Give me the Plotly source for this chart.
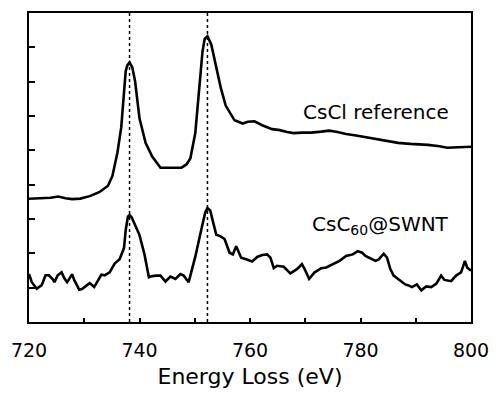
import plotly.graph_objects as go

# CsCl reference spectrum (energy loss eV, intensity a.u.)
cscl_energy = [720.0, 722.1, 723.9, 725.3, 726.6, 727.8, 729.3, 731.0, 732.8, 734.3, 735.1, 736.0,
               736.7, 737.5, 737.8, 738.2, 738.7, 739.2, 740.0, 741.1, 742.3, 743.8, 747.6, 748.5,
               749.2, 750.1, 750.6, 751.4, 751.8, 752.3, 753.0, 753.9, 754.7, 755.6, 757.2, 758.7,
               759.6, 760.8, 762.2, 764.0, 765.4, 766.7, 767.9, 769.4, 771.1, 772.9, 774.3, 775.6,
               777.4, 779.2, 781.5, 783.6, 785.4, 786.8, 789.0, 790.7, 792.2, 794.3, 795.7, 797.8, 800.0]
cscl_intensity = [125.6, 126.1, 126.6, 127.9, 126.1, 125.3, 125.8, 128.3, 132.6, 138.9, 148.9, 172.6,
                  198.6, 255.6, 261.6, 264.6, 259.6, 245.6, 207.6, 182.6, 168.6, 157.3, 157.3, 160.6,
                  166.6, 192.6, 225.6, 275.6, 288.6, 291.3, 282.6, 258.9, 238.9, 220.6, 205.6, 202.3,
                  204.1, 204.6, 200.6, 196.6, 195.6, 193.6, 192.6, 193.1, 193.1, 194.1, 195.1, 193.9,
                  191.6, 190.1, 187.6, 185.6, 183.6, 182.6, 181.6, 181.1, 180.6, 179.1, 177.6, 178.1, 178.6]

# CsC60@SWNT spectrum
swnt_energy = [720.0, 720.5, 721.4, 722.3, 723.0, 723.6, 724.3, 724.6, 725.2, 725.9, 726.4, 726.9,
               727.8, 728.2, 729.1, 729.6, 730.5, 731.0, 731.8, 733.1, 733.7, 734.6, 735.5, 736.4,
               737.2, 737.5, 737.9, 738.2, 738.6, 739.4, 740.0, 740.9, 741.7, 742.0, 742.9, 743.8,
               744.7, 745.6, 746.5, 747.4, 748.0, 748.9, 750.1, 751.2, 751.9, 752.3, 752.8, 753.3,
               753.9, 754.6, 755.4, 756.3, 756.9, 757.5, 758.4, 759.3, 760.4, 761.3, 762.2, 763.1,
               763.7, 764.3, 764.9, 766.1, 767.3, 768.5, 769.4, 769.9, 770.7, 771.7, 772.9, 773.8,
               775.0, 776.2, 777.4, 778.6, 779.5, 780.3, 780.9, 781.8, 782.7, 783.3, 784.2, 784.8,
               785.4, 786.0, 787.2, 788.1, 788.7, 789.3, 790.2, 791.0, 791.9, 792.8, 793.7, 794.6,
               795.2, 796.4, 797.3, 798.2, 798.9, 799.3, 800.0]
swnt_intensity = [48.9, 40.6, 33.9, 37.6, 47.6, 47.6, 43.6, 40.6, 47.6, 50.6, 44.6, 40.6,
                  48.6, 42.6, 32.9, 33.6, 37.6, 39.6, 35.6, 48.3, 47.6, 50.6, 59.6, 63.9,
                  75.6, 93.6, 107.3, 108.9, 106.6, 95.6, 88.6, 68.9, 45.6, 46.3, 47.3, 47.3,
                  41.3, 46.3, 43.9, 48.9, 47.3, 40.6, 66.6, 94.6, 111.6, 116.1, 113.6, 102.3,
                  88.9, 87.6, 84.6, 70.6, 68.9, 77.3, 65.6, 63.9, 61.6, 66.3, 68.3, 68.9,
                  65.6, 54.9, 57.3, 56.3, 49.6, 53.9, 58.9, 53.9, 43.9, 50.6, 54.9, 55.6,
                  58.9, 62.3, 67.3, 68.9, 72.3, 70.6, 67.3, 64.6, 62.3, 63.9, 69.6, 65.6,
                  53.9, 47.3, 42.3, 38.3, 37.3, 35.6, 38.3, 32.3, 36.3, 35.6, 38.9, 47.3,
                  42.9, 41.6, 47.3, 50.6, 62.3, 55.6, 52.3]

peak_lines = [738.2, 752.3]
x_tickvals = [720, 740, 760, 780, 800]
x_ticktext = ["720", "740", "760", "780", "800"]
y_tickvals = [35, 70, 105, 140, 175, 210, 245, 280]
labels = ["CsCl reference", "CsC<sub>60</sub>@SWNT"]
label_y = [213.6, 98.9]

FONT = "DejaVu Sans"

fig = go.Figure()
fig.add_trace(go.Scatter(x=cscl_energy, y=cscl_intensity, mode="lines",
                         line=dict(color="black", width=2.6), showlegend=False))
fig.add_trace(go.Scatter(x=swnt_energy, y=swnt_intensity, mode="lines",
                         line=dict(color="black", width=2.6), showlegend=False))

for xv in peak_lines:
    fig.add_shape(type="line", xref="x", yref="paper", x0=xv, x1=xv, y0=0, y1=1,
                  line=dict(color="black", width=1.5, dash="dot"), layer="below")

for txt, yv in zip(labels, label_y):
    fig.add_annotation(x=796.3, y=yv, xref="x", yref="y", text=txt, showarrow=False,
                       xanchor="right", yanchor="middle",
                       font=dict(family=FONT, size=20, color="black"))

fig.update_layout(
    width=500, height=396,
    margin=dict(l=28, r=23, t=11, b=70),
    paper_bgcolor="white", plot_bgcolor="white",
    font=dict(family=FONT, color="black"),
)
fig.update_xaxes(range=[720, 800], tickvals=x_tickvals, ticktext=x_ticktext,
                 ticks="inside", ticklen=4, tickwidth=1.5, tickcolor="black",
                 minor=dict(dtick=10, tick0=720, ticks="inside", ticklen=4, tickwidth=1.5,
                            tickcolor="black", showgrid=False),
                 showline=True, linecolor="black", linewidth=1.5, mirror=True,
                 showgrid=False, zeroline=False,
                 tickfont=dict(family=FONT, size=19, color="black"),
                 ticklabelstandoff=10,
                 title=dict(text="Energy Loss (eV)", font=dict(family=FONT, size=22, color="black"),
                            standoff=9))
fig.update_yaxes(range=[0, 315], tickvals=y_tickvals, showticklabels=False,
                 ticks="inside", ticklen=6, tickwidth=1.5, tickcolor="black",
                 showline=True, linecolor="black", linewidth=1.5, mirror=True,
                 showgrid=False, zeroline=False)

fig.write_html("out.html")
